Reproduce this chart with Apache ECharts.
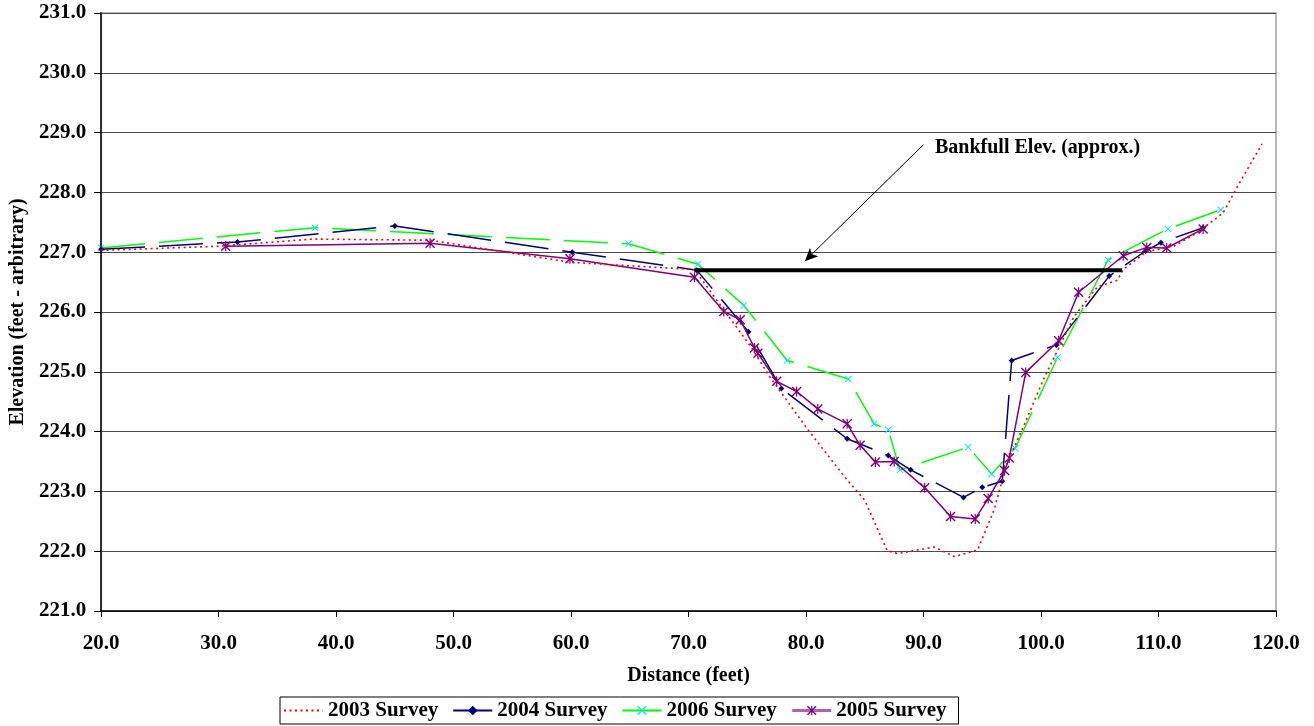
<!DOCTYPE html>
<html>
<head>
<meta charset="utf-8">
<script src="https://cdn.jsdelivr.net/npm/echarts@6/dist/echarts.min.js"></script>
<style>
  html, body { margin: 0; padding: 0; background: #fff; }
  #chart { width: 1314px; height: 726px; }
</style>
</head>
<body>
<div id="chart"></div>
<script>
// survey data: [distance (ft), elevation]
const survey2003 = [
  [20.0, 227.03], [30.0, 227.10], [38.0, 227.22], [48.0, 227.20], [60.0, 226.83],
  [70.5, 226.71], [73.4, 225.93], [75.3, 225.42], [76.9, 224.92], [80.2, 224.02],
  [83.3, 223.24], [85.0, 222.85], [86.9, 222.01], [87.8, 221.96], [90.9, 222.07],
  [92.6, 221.91], [94.6, 222.02], [96.0, 222.69], [97.1, 223.47], [98.5, 224.08],
  [100.2, 224.87], [102.8, 225.92], [104.8, 226.42], [106.5, 226.53], [107.0, 226.71],
  [109.0, 227.01], [111.3, 227.10], [113.5, 227.35], [115.5, 227.66], [116.9, 228.16],
  [118.8, 228.81]
];
const survey2004 = [
  [20.0, 227.05], [31.6, 227.17], [45.0, 227.44], [60.1, 227.00], [70.7, 226.70],
  [75.1, 225.67], [77.9, 224.72], [83.5, 223.88], [87.0, 223.60], [88.9, 223.36],
  [93.4, 222.90], [95.0, 223.07], [96.7, 223.17], [97.5, 225.19], [101.3, 225.45],
  [105.8, 226.60], [108.9, 227.02], [110.2, 227.16], [113.8, 227.41]
];
const survey2006 = [
  [20.0, 227.07], [38.2, 227.41], [64.9, 227.14], [70.8, 226.80], [74.7, 226.11],
  [78.4, 225.19], [83.6, 224.88], [85.8, 224.13], [87.0, 224.03], [88.0, 223.36],
  [93.8, 223.74], [95.8, 223.29], [97.8, 223.72], [101.4, 225.24], [105.7, 226.87],
  [110.8, 227.39], [115.3, 227.71]
];
const survey2005 = [
  [30.6, 227.10], [48.0, 227.15], [59.9, 226.89], [70.5, 226.58], [73.0, 226.01],
  [74.4, 225.87], [75.6, 225.40], [75.9, 225.31], [77.5, 224.84], [79.2, 224.67],
  [81.0, 224.38], [83.5, 224.13], [84.6, 223.77], [85.9, 223.49], [87.5, 223.50],
  [90.1, 223.06], [92.3, 222.58], [94.4, 222.54], [95.5, 222.88], [96.9, 223.35],
  [97.3, 223.56], [98.7, 224.99], [101.5, 225.52], [103.2, 226.33], [107.0, 226.94],
  [109.0, 227.08], [110.7, 227.07], [113.8, 227.39]
];
const bankfullX = [70.5, 106.9];
const bankfullElev = 226.7;
const arrowFrom = [90.0, 228.8];
const arrowTo = [79.9, 226.85];

const serif = "'Liberation Serif', 'Times New Roman', serif";
const xMark = 'path://M0,1L1,0L5,4L9,0L10,1L6,5L10,9L9,10L5,6L1,10L0,9L4,5Z';
const starMark = 'path://M0,1L1,0L5,4L9,0L10,1L6,5L10,9L9,10L5,6L1,10L0,9L4,5Z M4.4,0L5.6,0L5.6,10L4.4,10Z';

const chart = echarts.init(document.getElementById('chart'));
chart.setOption({
  animation: false,
  backgroundColor: '#fff',
  grid: {
    left: 98, right: 38, top: 13, bottom: 115,
    show: true, borderColor: '#b8b8b8', borderWidth: 2
  },
  legend: {
    left: 280, top: 697,
    padding: [3, 12, 3, 3],
    itemGap: 14,
    itemWidth: 39,
    itemHeight: 12,
    borderColor: '#000',
    borderWidth: 1,
    backgroundColor: '#fff',
    data: [
      { name: '2003 Survey', itemStyle: { opacity: 0 } },
      '2004 Survey',
      '2006 Survey',
      { name: '2005 Survey', lineStyle: { color: '#b060b0', width: 3 } }
    ],
    textStyle: { fontFamily: serif, fontWeight: 'bold', fontSize: 21, color: '#000' }
  },
  xAxis: {
    type: 'value',
    min: 20, max: 120, interval: 10,
    name: 'Distance (feet)',
    nameLocation: 'middle',
    nameGap: 55,
    nameTextStyle: { fontFamily: serif, fontWeight: 'bold', fontSize: 20, color: '#000' },
    axisLine: { show: true, onZero: false, lineStyle: { color: '#000', width: 1.5 } },
    axisTick: { show: true, length: 6, lineStyle: { color: '#000' } },
    splitLine: { show: false },
    axisLabel: {
      margin: 22,
      fontFamily: serif, fontWeight: 'bold', fontSize: 21, color: '#000',
      formatter: v => v.toFixed(1)
    }
  },
  yAxis: {
    type: 'value',
    min: 221, max: 231, interval: 1,
    name: 'Elevation (feet - arbitrary)',
    nameLocation: 'middle',
    nameGap: 72,
    nameTextStyle: { fontFamily: serif, fontWeight: 'bold', fontSize: 20, color: '#000' },
    axisLine: { show: true, onZero: false, lineStyle: { color: '#000', width: 1.5 } },
    axisTick: { show: true, length: 7, lineStyle: { color: '#000' } },
    splitLine: { show: true, lineStyle: { color: '#4a4a4a', width: 1.2 } },
    axisLabel: {
      margin: 15,
      fontFamily: serif, fontWeight: 'bold', fontSize: 21, color: '#000',
      formatter: v => v.toFixed(1)
    }
  },
  series: [
    {
      name: '2003 Survey',
      type: 'line',
      data: survey2003,
      symbol: 'none',
      z: 5,
      lineStyle: { color: '#ff0000', width: 1.6, type: [2, 3.5] },
      itemStyle: { color: '#ff0000' }
    },
    {
      name: '2004 Survey',
      type: 'line',
      data: survey2004,
      symbol: 'diamond',
      symbolSize: 6,
      z: 3,
      lineStyle: { color: '#000080', width: 1.5, type: [44, 14] },
      itemStyle: { color: '#000080' }
    },
    {
      name: '2006 Survey',
      type: 'line',
      data: survey2006,
      symbol: xMark,
      symbolSize: 7,
      z: 2,
      lineStyle: { color: '#00ff00', width: 1.5, type: [44, 14] },
      itemStyle: { color: '#00e5ff' }
    },
    {
      name: '2005 Survey',
      type: 'line',
      data: survey2005,
      symbol: starMark,
      symbolSize: 10,
      z: 4,
      lineStyle: { color: '#800080', width: 1.5 },
      itemStyle: { color: '#800080' }
    },
    {
      name: 'Bankfull',
      type: 'line',
      data: bankfullX.map(x => [x, bankfullElev]),
      symbol: 'none',
      z: 6,
      lineStyle: { color: '#000', width: 4 },
      markLine: {
        silent: true,
        symbol: ['none', 'arrow'],
        symbolSize: [9, 13],
        label: { show: false },
        lineStyle: { color: '#000', width: 1, type: 'solid' },
        data: [[{ coord: arrowFrom }, { coord: arrowTo }]]
      }
    }
  ],
  graphic: [
    {
      type: 'text',
      left: 935,
      top: 138,
      style: {
        text: 'Bankfull Elev. (approx.)',
        fontFamily: serif, fontWeight: 'bold', fontSize: 20, fill: '#000'
      }
    }
  ]
});
</script>
</body>
</html>
